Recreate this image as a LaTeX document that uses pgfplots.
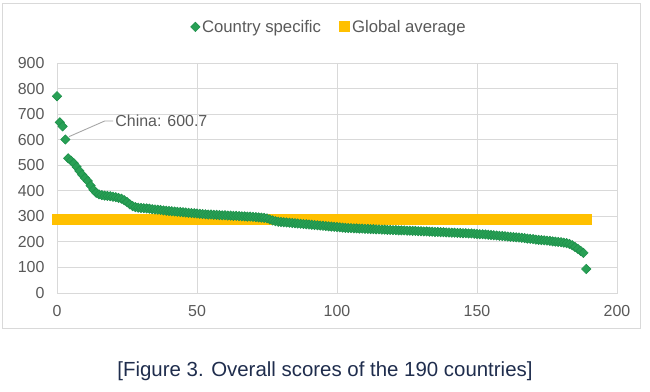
\documentclass[border=0pt]{standalone}
\usepackage{fontspec}
\setmainfont{Liberation Sans}
\usepackage{pgfplots}
\usepackage{pgfplotstable}
\pgfplotsset{compat=1.18}
\definecolor{cgreen}{RGB}{30,145,75}
\definecolor{cgreenfill}{RGB}{40,160,85}
\definecolor{cyellow}{RGB}{255,192,0}
\definecolor{cgrid}{RGB}{217,217,217}
\definecolor{ctext}{RGB}{89,89,89}
\definecolor{ccap}{RGB}{31,45,77}

\pgfplotstableread{
x y
0 770
1 668
2 652
3 600.7
4 527
5 518
6 508
7 494
8 478
9 463
10 450
11 438
12 420
13 404
14 392
15 386
16 383
17 381
18 380
19 379
20 377
21 375
22 372
23 369
24 363
25 356
26 347
27 340
28 336
29 334
30 333
31 332
32 331
33 330
34 328
35 327
36 326
37 325
38 323
39 322
40 321
41 320
42 319
43 318
44 317
45 316
46 315
47 314
48 313
49 312
50 311
51 310
52 309
53 308
54 307
55 307
56 306
57 306
58 305
59 304
60 304
61 303
62 303
63 302
64 302
65 301
66 300
67 300
68 299
69 299
70 298
71 297
72 296
73 295
74 294
75 292
76 288
77 284
78 281
79 279
80 278
81 277
82 276
83 275
84 274
85 273
86 272
87 271
88 270
89 269
90 268
91 267
92 266
93 265
94 264
95 263
96 262
97 261
98 260
99 259
100 258
101 257
102 256
103 255
104 254
105 254
106 253
107 253
108 252
109 252
110 251
111 251
112 250
113 250
114 249
115 249
116 248
117 248
118 247
119 247
120 246
121 246
122 245
123 245
124 245
125 244
126 244
127 243
128 243
129 242
130 242
131 241
132 241
133 240
134 240
135 239
136 239
137 238
138 238
139 237
140 237
141 236
142 236
143 235
144 235
145 234
146 234
147 233
148 233
149 232
150 231
151 230
152 230
153 229
154 228
155 227
156 226
157 225
158 224
159 223
160 222
161 221
162 220
163 219
164 218
165 217
166 216
167 215
168 213
169 212
170 211
171 209
172 208
173 207
174 206
175 205
176 204
177 202
178 201
179 200
180 199
181 197
182 195
183 192
184 187
185 180
186 173
187 165
188 157
189 94
}\countrydata

\begin{document}
\begin{tikzpicture}[x=1bp,y=1bp]
\useasboundingbox (0,0) rectangle (650,-391);
\draw[cgrid, line width=1bp] (2.5,-3.5) rectangle (640.5,-328.5);
\begin{axis}[
  at={(57bp,-293bp)}, anchor=south west,
  scale only axis, width=560bp, height=230bp,
  xmin=0, xmax=200, ymin=0, ymax=900,
  xtick={0,50,...,200}, ytick={0,100,...,900},
  grid=major, grid style={cgrid, line width=0.9bp},
  axis line style={cgrid, line width=0.9bp},
  major tick length=0pt,
  tick label style={font=\fontsize{16}{18}\selectfont, text=ctext},
  /pgf/number format/assume math mode=true,
  xticklabel style={yshift=-9bp},
  yticklabel style={xshift=-9bp},
  legend style={at={(0.486,1.157)}, anchor=center, draw=none, fill=none,
    font=\fontsize{16.8}{19}\selectfont, text=ctext, legend columns=2,
    /tikz/every even column/.append style={column sep=16bp}},
  legend cell align=left,
  clip=false,
]
\addplot[only marks, mark=square*, mark size=3.3bp,
  mark options={rotate=45, draw=cgreen, fill=cgreenfill, line width=0.6bp}]
  table[x=x, y=y] {\countrydata};
\addlegendentry{Country specific}
\addplot[cyellow, line width=11bp, line cap=rect,
  legend image code/.code={\fill[cyellow, draw=none] (1bp,-5.5bp) rectangle (12bp,5.5bp);}]
  coordinates {(0,288) (189,288)};
\addlegendentry{Global average}
\draw[gray!70, line width=0.9bp] (axis cs:4.3,612) -- (axis cs:17,673) -- (axis cs:20,673)
  node[right, inner sep=2bp, text=ctext, font=\fontsize{16}{18}\selectfont] {China: 600.7};
\end{axis}
\node[text=ccap, font=\fontsize{20.5}{24}\selectfont] at (325,-371) {[Figure 3. Overall scores of the 190 countries]};
\end{tikzpicture}
\end{document}
